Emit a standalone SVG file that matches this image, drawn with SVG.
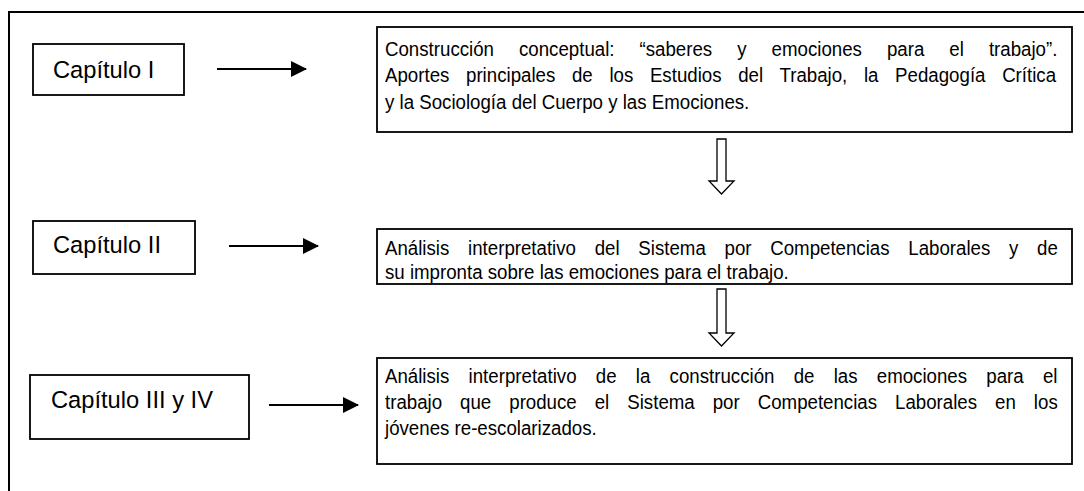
<svg xmlns="http://www.w3.org/2000/svg" width="1084" height="491" viewBox="0 0 1084 491">
<defs>
<marker id="ah" markerUnits="userSpaceOnUse" markerWidth="16" markerHeight="16" refX="15" refY="8" orient="auto" viewBox="0 0 16 16">
<path d="M0,0 L16,8 L0,16 Z" fill="#000"/>
</marker>
</defs>
<style>
.frame{fill:none;stroke:#000;stroke-width:2}
.box{fill:#fff;stroke:#000;stroke-width:1.8}
.lbl{font-family:"Liberation Sans",Arial,sans-serif;font-size:23.7px;fill:#000}
.txt{font-family:"Liberation Sans",Arial,sans-serif;font-size:21px;fill:#000}
.arr{stroke:#000;stroke-width:2;fill:none}
.hol{fill:#fff;stroke:#000;stroke-width:1.3;stroke-linejoin:miter}
</style>
<rect width="1084" height="491" fill="#fff"/>
<rect class="frame" x="9" y="12" width="1090" height="500"/>

<g id="cap1">
<rect class="box" x="33" y="44" width="151" height="51"/>
<text class="lbl" x="53" y="78">Capítulo I</text>
</g>
<g id="cap2">
<rect class="box" x="33" y="221" width="162" height="53"/>
<text class="lbl" x="53" y="253">Capítulo II</text>
</g>
<g id="cap3">
<rect class="box" x="30" y="375" width="219" height="64"/>
<text class="lbl" x="51" y="408">Capítulo III y IV</text>
</g>

<g id="box1">
<rect class="box" x="377" y="27" width="695" height="105"/>
<g transform="translate(385,0) scale(0.89,1)">
<text class="txt" x="0" y="56" word-spacing="22.3">Construcción conceptual: “saberes y emociones para el trabajo”.</text>
<text class="txt" x="0" y="82.5" word-spacing="12.9">Aportes principales de los Estudios del Trabajo, la Pedagogía Crítica</text>
<text class="txt" x="0" y="109">y la Sociología del Cuerpo y las Emociones.</text>
</g>
</g>
<g id="box2">
<rect class="box" x="377" y="229" width="695" height="55"/>
<g transform="translate(385,0) scale(0.89,1)">
<text class="txt" x="0" y="255" word-spacing="15.2">Análisis interpretativo del Sistema por Competencias Laborales y de</text>
<text class="txt" x="0" y="279.5">su impronta sobre las emociones para el trabajo.</text>
</g>
</g>
<g id="box3">
<rect class="box" x="377" y="358" width="695" height="106"/>
<g transform="translate(385,0) scale(0.89,1)">
<text class="txt" x="0" y="383" word-spacing="15.8">Análisis interpretativo de la construcción de las emociones para el</text>
<text class="txt" x="0" y="409" word-spacing="14.4">trabajo que produce el Sistema por Competencias Laborales en los</text>
<text class="txt" x="0" y="435">jóvenes re-escolarizados.</text>
</g>
</g>

<g id="connectors">
<line class="arr" x1="217" y1="69" x2="306" y2="69" marker-end="url(#ah)"/>
<line class="arr" x1="229" y1="246" x2="318" y2="246" marker-end="url(#ah)"/>
<line class="arr" x1="269" y1="405" x2="358" y2="405" marker-end="url(#ah)"/>
<path class="hol" d="M717,139 L726,139 L726,181 L734,181 L721.5,194 L709,181 L717,181 Z"/>
<path class="hol" d="M717,289 L726,289 L726,333 L734,333 L721.5,346 L709,333 L717,333 Z"/>
</g>
</svg>
